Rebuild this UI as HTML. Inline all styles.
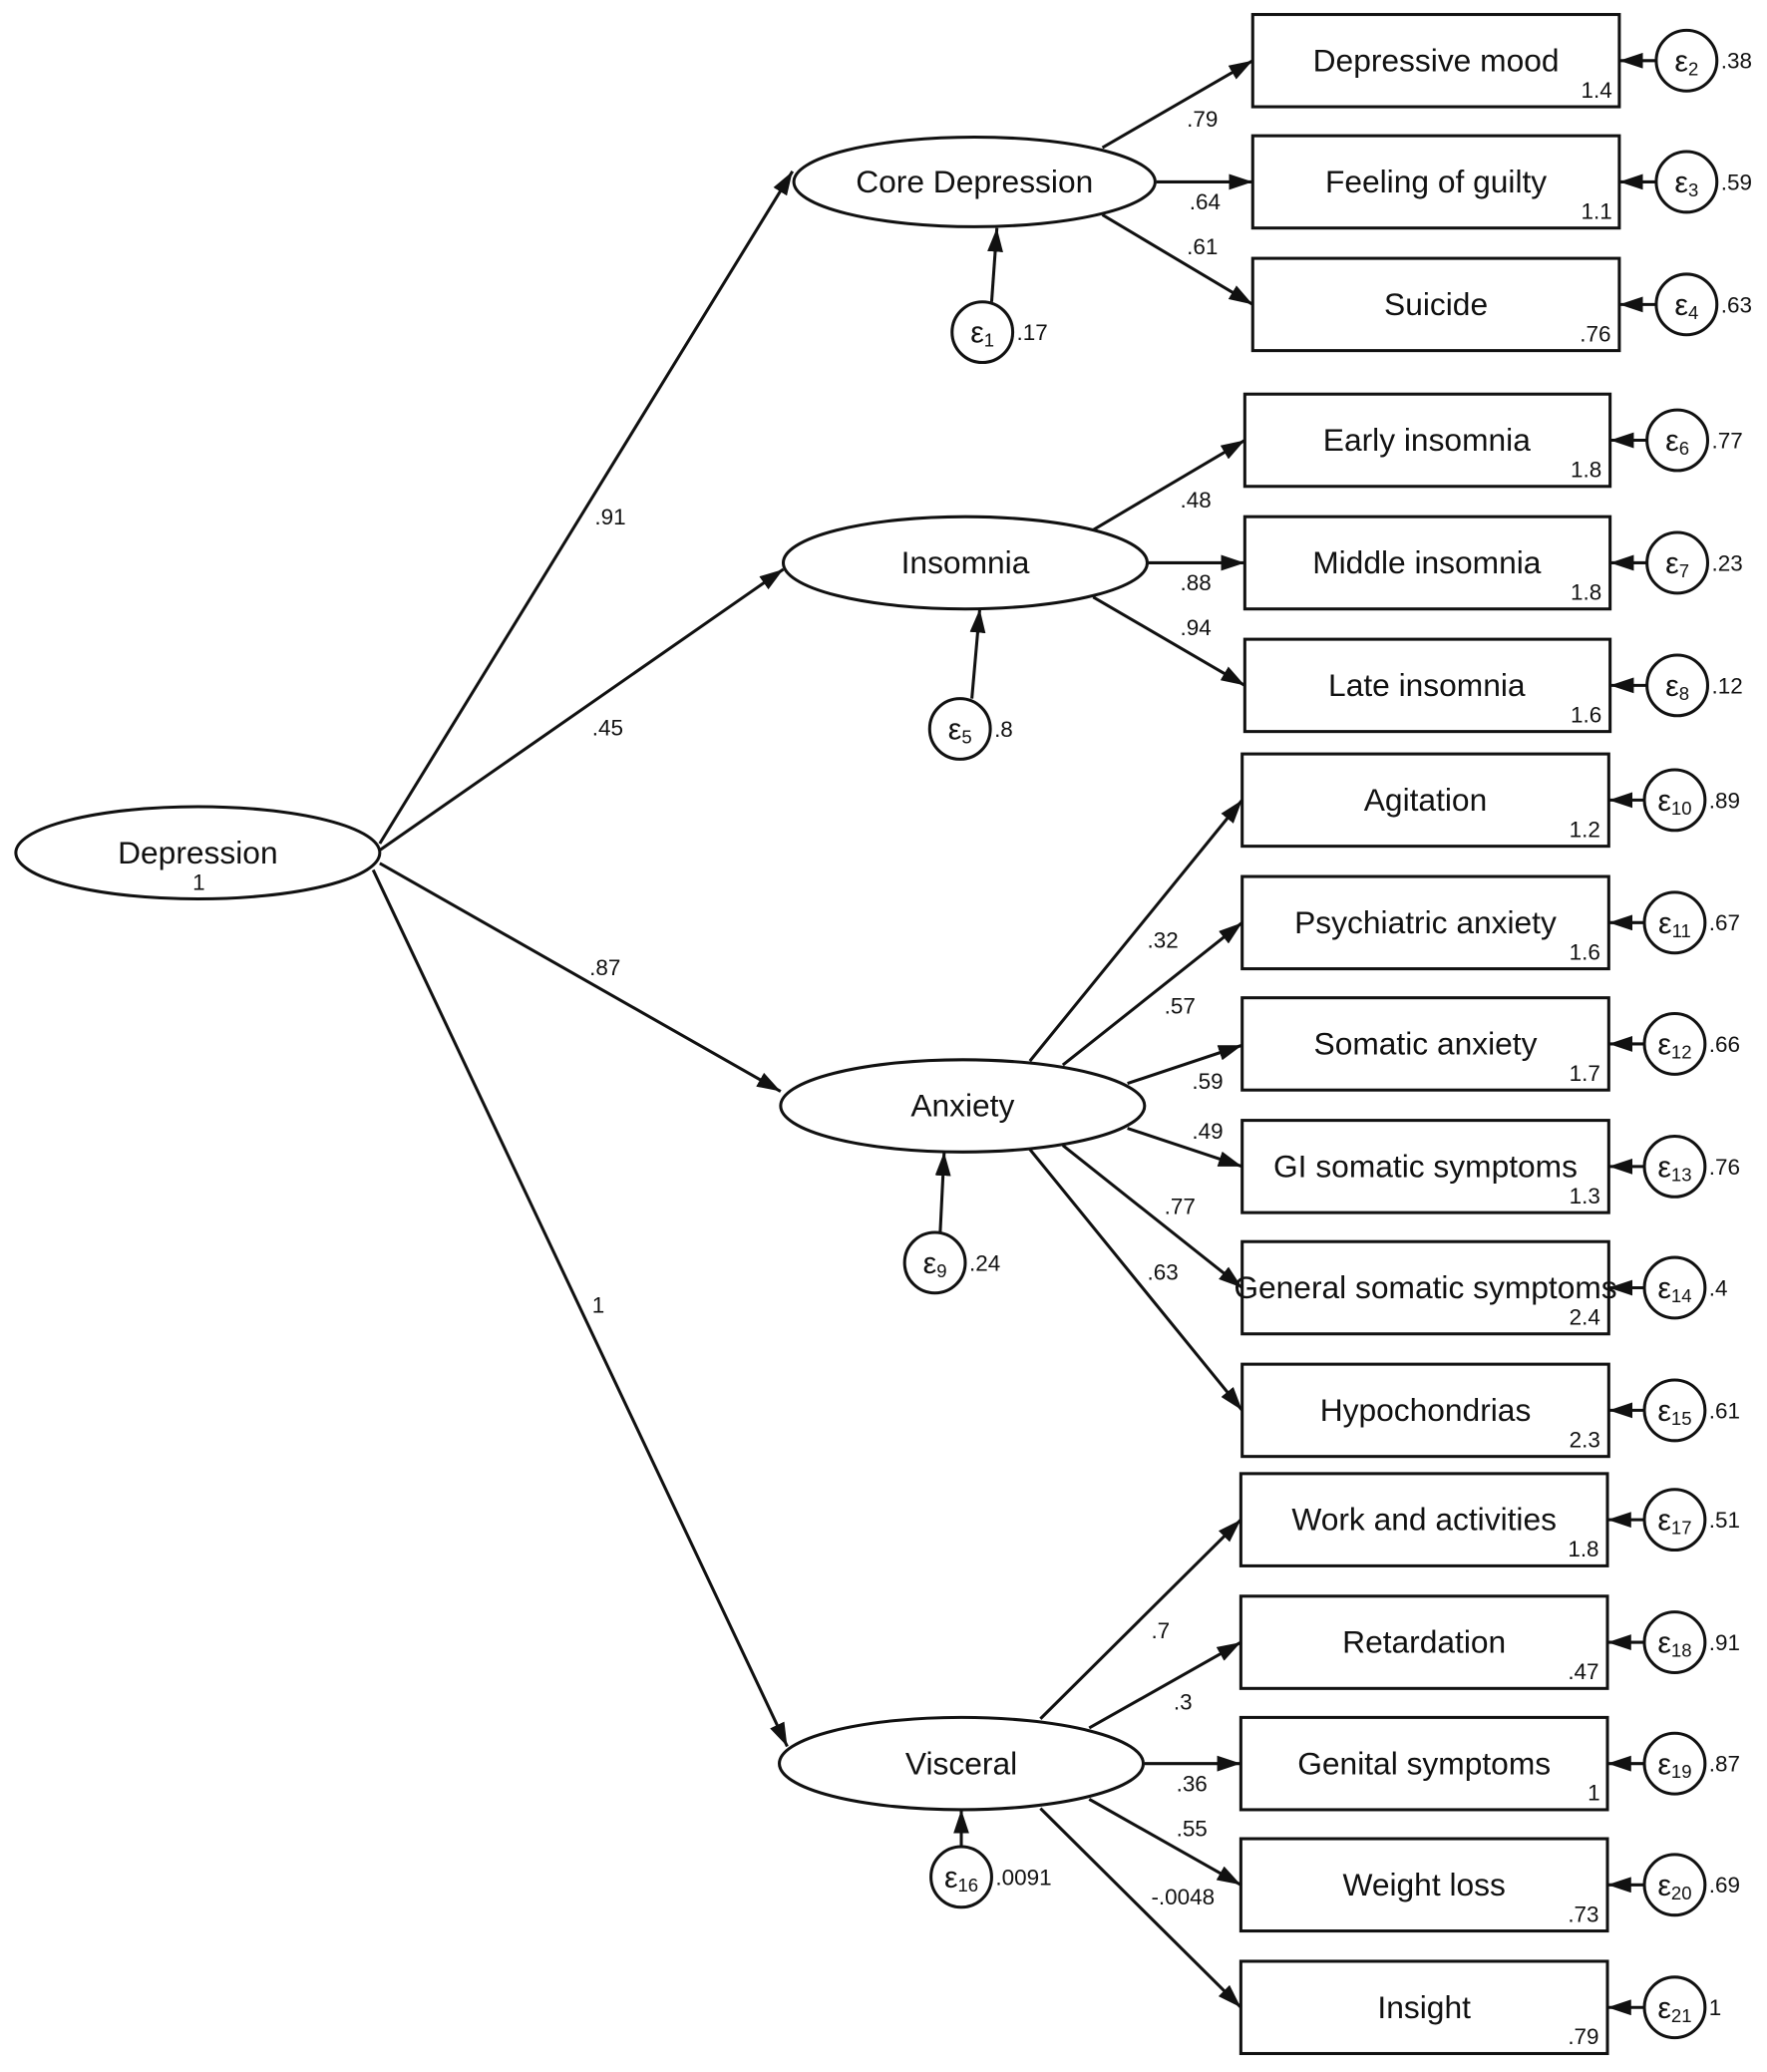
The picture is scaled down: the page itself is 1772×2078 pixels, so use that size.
<!DOCTYPE html>
<html><head><meta charset="utf-8"><style>
html,body{margin:0;padding:0;background:#fff;}
svg{display:block;}
text{font-family:"Liberation Sans",Arial,sans-serif;fill:#111;}
.n{font-size:24px;text-anchor:middle;}
.s{font-size:17px;}
.e{font-size:23px;text-anchor:middle;}
</style></head><body>
<svg width="1772" height="2078" viewBox="0 0 1340 1572" preserveAspectRatio="none" xmlns="http://www.w3.org/2000/svg">
<defs><marker id="b" markerWidth="18" markerHeight="12" refX="18" refY="6" orient="auto" markerUnits="userSpaceOnUse"><path d="M0,0 L18,6 L0,12 Z" fill="#111"/></marker></defs>
<g stroke="#111" stroke-width="2.3" fill="none">
<ellipse cx="150" cy="647" rx="138" ry="35"/>
<ellipse cx="739" cy="138" rx="137" ry="34"/>
<ellipse cx="732" cy="427" rx="138" ry="35"/>
<ellipse cx="730" cy="839" rx="138" ry="35"/>
<ellipse cx="729" cy="1338" rx="138" ry="35"/>
<rect x="950" y="11" width="278" height="70"/><rect x="950" y="103" width="278" height="70"/><rect x="950" y="196" width="278" height="70"/>
<rect x="944" y="299" width="277" height="70"/><rect x="944" y="392" width="277" height="70"/><rect x="944" y="485" width="277" height="70"/>
<rect x="942" y="572" width="278" height="70"/><rect x="942" y="665" width="278" height="70"/><rect x="942" y="757" width="278" height="70"/><rect x="942" y="850" width="278" height="70"/><rect x="942" y="942" width="278" height="70"/><rect x="942" y="1035" width="278" height="70"/>
<rect x="941" y="1118" width="278" height="70"/><rect x="941" y="1211" width="278" height="70"/><rect x="941" y="1303" width="278" height="70"/><rect x="941" y="1395" width="278" height="70"/><rect x="941" y="1488" width="278" height="70"/>
<circle cx="1279" cy="46" r="23"/><circle cx="1279" cy="138" r="23"/><circle cx="1279" cy="231" r="23"/>
<circle cx="1272" cy="334" r="23"/><circle cx="1272" cy="427" r="23"/><circle cx="1272" cy="520" r="23"/>
<circle cx="1270" cy="607" r="23"/><circle cx="1270" cy="700" r="23"/><circle cx="1270" cy="792" r="23"/><circle cx="1270" cy="885" r="23"/><circle cx="1270" cy="977" r="23"/><circle cx="1270" cy="1070" r="23"/>
<circle cx="1270" cy="1153" r="23"/><circle cx="1270" cy="1246" r="23"/><circle cx="1270" cy="1338" r="23"/><circle cx="1270" cy="1430" r="23"/><circle cx="1270" cy="1523" r="23"/>
<circle cx="745" cy="252" r="23"/><circle cx="728" cy="553" r="23"/><circle cx="709" cy="958" r="23"/><circle cx="729" cy="1424" r="23"/>
</g>
<g stroke="#111" stroke-width="2.3" marker-end="url(#b)">
<line x1="288" y1="640" x2="601" y2="130"/>
<line x1="288" y1="645" x2="594" y2="432"/>
<line x1="288" y1="655" x2="592" y2="828"/>
<line x1="283" y1="660" x2="597" y2="1325"/>
<line x1="836" y1="112" x2="950" y2="46"/><line x1="877" y1="138" x2="950" y2="138"/><line x1="836" y1="163" x2="950" y2="231"/>
<line x1="829" y1="402" x2="944" y2="334"/><line x1="871" y1="427" x2="944" y2="427"/><line x1="829" y1="453" x2="944" y2="520"/>
<line x1="781" y1="805" x2="942" y2="607"/><line x1="806" y1="808" x2="942" y2="700"/><line x1="855" y1="822" x2="942" y2="793"/><line x1="855" y1="856" x2="942" y2="885"/><line x1="806" y1="869" x2="942" y2="977"/><line x1="781" y1="872" x2="942" y2="1070"/>
<line x1="789" y1="1304" x2="941" y2="1153"/><line x1="826" y1="1311" x2="941" y2="1246"/><line x1="868" y1="1338" x2="941" y2="1338"/><line x1="826" y1="1365" x2="941" y2="1430"/><line x1="789" y1="1372" x2="941" y2="1523"/>
<line x1="752" y1="229" x2="756" y2="173"/><line x1="737" y1="530" x2="743" y2="462"/><line x1="713" y1="935" x2="716" y2="874"/><line x1="729" y1="1401" x2="729" y2="1373"/>
<line x1="1256" y1="46" x2="1228" y2="46"/><line x1="1256" y1="138" x2="1228" y2="138"/><line x1="1256" y1="231" x2="1228" y2="231"/>
<line x1="1249" y1="334" x2="1221" y2="334"/><line x1="1249" y1="427" x2="1221" y2="427"/><line x1="1249" y1="520" x2="1221" y2="520"/>
<line x1="1247" y1="607" x2="1220" y2="607"/><line x1="1247" y1="700" x2="1220" y2="700"/><line x1="1247" y1="792" x2="1220" y2="792"/><line x1="1247" y1="885" x2="1220" y2="885"/><line x1="1247" y1="977" x2="1220" y2="977"/><line x1="1247" y1="1070" x2="1220" y2="1070"/>
<line x1="1247" y1="1153" x2="1219" y2="1153"/><line x1="1247" y1="1246" x2="1219" y2="1246"/><line x1="1247" y1="1338" x2="1219" y2="1338"/><line x1="1247" y1="1430" x2="1219" y2="1430"/><line x1="1247" y1="1523" x2="1219" y2="1523"/>
</g>
<text class="n" x="150" y="655">Depression</text><text class="s" x="146" y="675">1</text>
<text class="n" x="739" y="146">Core Depression</text>
<text class="n" x="732" y="435">Insomnia</text>
<text class="n" x="730" y="847">Anxiety</text>
<text class="n" x="729" y="1346">Visceral</text>
<text class="n" x="1089" y="54">Depressive mood</text><text class="s" x="1199" y="74">1.4</text>
<text class="n" x="1089" y="146">Feeling of guilty</text><text class="s" x="1199" y="166">1.1</text>
<text class="n" x="1089" y="239">Suicide</text><text class="s" x="1198" y="259">.76</text>
<text class="n" x="1082" y="342">Early insomnia</text><text class="s" x="1191" y="362">1.8</text>
<text class="n" x="1082" y="435">Middle insomnia</text><text class="s" x="1191" y="455">1.8</text>
<text class="n" x="1082" y="528">Late insomnia</text><text class="s" x="1191" y="548">1.6</text>
<text class="n" x="1081" y="615">Agitation</text><text class="s" x="1190" y="635">1.2</text>
<text class="n" x="1081" y="708">Psychiatric anxiety</text><text class="s" x="1190" y="728">1.6</text>
<text class="n" x="1081" y="800">Somatic anxiety</text><text class="s" x="1190" y="820">1.7</text>
<text class="n" x="1081" y="893">GI somatic symptoms</text><text class="s" x="1190" y="913">1.3</text>
<text class="n" x="1081" y="985">General somatic symptoms</text><text class="s" x="1190" y="1005">2.4</text>
<text class="n" x="1081" y="1078">Hypochondrias</text><text class="s" x="1190" y="1098">2.3</text>
<text class="n" x="1080" y="1161">Work and activities</text><text class="s" x="1189" y="1181">1.8</text>
<text class="n" x="1080" y="1254">Retardation</text><text class="s" x="1189" y="1274">.47</text>
<text class="n" x="1080" y="1346">Genital symptoms</text><text class="s" x="1204" y="1366">1</text>
<text class="n" x="1080" y="1438">Weight loss</text><text class="s" x="1189" y="1458">.73</text>
<text class="n" x="1080" y="1531">Insight</text><text class="s" x="1189" y="1551">.79</text>
<g class="s">
<text x="451" y="398">.91</text><text x="449" y="558">.45</text><text x="447" y="740">.87</text><text x="449" y="996">1</text>
<text x="900" y="96">.79</text><text x="902" y="159">.64</text><text x="900" y="193">.61</text>
<text x="895" y="385">.48</text><text x="895" y="448">.88</text><text x="895" y="482">.94</text>
<text x="870" y="719">.32</text><text x="883" y="769">.57</text><text x="904" y="826">.59</text><text x="904" y="864">.49</text><text x="883" y="921">.77</text><text x="870" y="971">.63</text>
<text x="873" y="1243">.7</text><text x="890" y="1297">.3</text><text x="892" y="1359">.36</text><text x="892" y="1393">.55</text><text x="873" y="1445">-.0048</text>
<text x="771" y="258">.17</text><text x="754" y="559">.8</text><text x="735" y="964">.24</text><text x="755" y="1430">.0091</text>
<text x="1305" y="52">.38</text><text x="1305" y="144">.59</text><text x="1305" y="237">.63</text>
<text x="1298" y="340">.77</text><text x="1298" y="433">.23</text><text x="1298" y="526">.12</text>
<text x="1296" y="613">.89</text><text x="1296" y="706">.67</text><text x="1296" y="798">.66</text><text x="1296" y="891">.76</text><text x="1296" y="983">.4</text><text x="1296" y="1076">.61</text>
<text x="1296" y="1159">.51</text><text x="1296" y="1252">.91</text><text x="1296" y="1344">.87</text><text x="1296" y="1436">.69</text><text x="1296" y="1529">1</text>
</g>
<g class="e">
<text x="1279" y="54">ε<tspan font-size="14" dy="3">2</tspan></text>
<text x="1279" y="146">ε<tspan font-size="14" dy="3">3</tspan></text>
<text x="1279" y="239">ε<tspan font-size="14" dy="3">4</tspan></text>
<text x="1272" y="342">ε<tspan font-size="14" dy="3">6</tspan></text>
<text x="1272" y="435">ε<tspan font-size="14" dy="3">7</tspan></text>
<text x="1272" y="528">ε<tspan font-size="14" dy="3">8</tspan></text>
<text x="1270" y="615">ε<tspan font-size="14" dy="3">10</tspan></text>
<text x="1270" y="708">ε<tspan font-size="14" dy="3">11</tspan></text>
<text x="1270" y="800">ε<tspan font-size="14" dy="3">12</tspan></text>
<text x="1270" y="893">ε<tspan font-size="14" dy="3">13</tspan></text>
<text x="1270" y="985">ε<tspan font-size="14" dy="3">14</tspan></text>
<text x="1270" y="1078">ε<tspan font-size="14" dy="3">15</tspan></text>
<text x="1270" y="1161">ε<tspan font-size="14" dy="3">17</tspan></text>
<text x="1270" y="1254">ε<tspan font-size="14" dy="3">18</tspan></text>
<text x="1270" y="1346">ε<tspan font-size="14" dy="3">19</tspan></text>
<text x="1270" y="1438">ε<tspan font-size="14" dy="3">20</tspan></text>
<text x="1270" y="1531">ε<tspan font-size="14" dy="3">21</tspan></text>
<text x="745" y="260">ε<tspan font-size="14" dy="3">1</tspan></text>
<text x="728" y="561">ε<tspan font-size="14" dy="3">5</tspan></text>
<text x="709" y="966">ε<tspan font-size="14" dy="3">9</tspan></text>
<text x="729" y="1432">ε<tspan font-size="14" dy="3">16</tspan></text>
</g>
</svg>
</body></html>
